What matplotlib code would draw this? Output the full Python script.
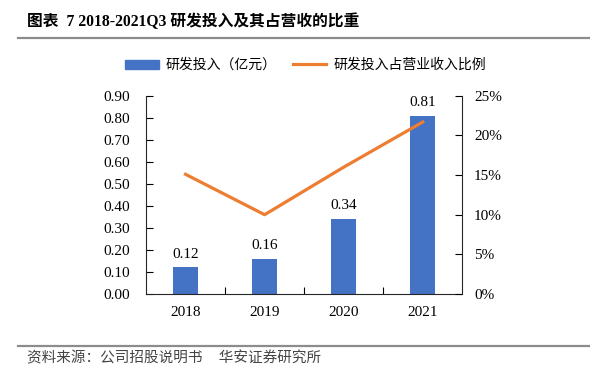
import matplotlib.pyplot as plt
from matplotlib.lines import Line2D
from matplotlib.patches import Patch
from matplotlib.ticker import FuncFormatter

# 数据
years = ['2018', '2019', '2020', '2021']
rd_spend = [0.12, 0.16, 0.34, 0.81]          # 研发投入（亿元）
rd_ratio = [15.1, 10.0, 16.0, 21.7]          # 占营业收入比例 (%)

num_font = ['Liberation Serif', 'Noto Sans CJK SC']
cjk_font = ['Noto Sans CJK SC', 'DejaVu Sans']

fig = plt.figure(figsize=(5.9, 3.66), dpi=100)
ax = fig.add_axes([0.2475, 0.197, 0.536, 0.541])
ax2 = ax.twinx()

x = range(len(years))
ax.bar(x, rd_spend, width=0.32, color='#4472C4', zorder=2)
ax2.plot(x, rd_ratio, color='#ED7D31', lw=2.3, zorder=3)

for xi, v in zip(x, rd_spend):
    ax.text(xi, v + 0.03, f'{v:.2f}', ha='center', va='bottom',
            fontsize=11, family=num_font)

ax.set_xlim(-0.5, 3.5)
ax.set_ylim(0, 0.9)
ax.set_yticks([i / 10 for i in range(10)])
ax.yaxis.set_major_formatter(FuncFormatter(lambda v, p: f'{v:.2f}'))
ax2.set_ylim(0, 25)
ax2.set_yticks(range(0, 30, 5))
ax2.yaxis.set_major_formatter(FuncFormatter(lambda v, p: f'{int(v)}%'))

ax.set_xticks(list(x))
ax.set_xticklabels(years)
ax.set_xticks([0.5, 1.5, 2.5], minor=True)
ax.tick_params(axis='x', which='major', length=0, pad=9)
ax.tick_params(axis='x', which='minor', direction='in', length=5, width=0.8)
ax.tick_params(axis='y', direction='in', length=5, width=0.8, pad=11.5)
ax2.tick_params(axis='y', direction='in', length=5, width=0.8, pad=8.5)

for a in (ax, ax2):
    a.spines['top'].set_visible(False)
    for lab in a.get_xticklabels() + a.get_yticklabels():
        lab.set_family(num_font)
        lab.set_fontsize(11)
ax.spines['right'].set_visible(False)
ax2.spines['left'].set_visible(False)
ax2.spines['bottom'].set_visible(False)
for s in ('left', 'bottom'):
    ax.spines[s].set_color('#262626')
ax2.spines['right'].set_color('#262626')

# 图例
handles = [Patch(color='#4472C4'), Line2D([], [], color='#ED7D31', lw=2.3)]
fig.legend(handles, ['研发投入（亿元）', '研发投入占营业收入比例'],
           loc='center', bbox_to_anchor=(0.518, 0.822), ncol=2, frameon=False,
           prop={'family': cjk_font, 'size': 10}, handlelength=2.4,
           handleheight=0.6, columnspacing=1.2, handletextpad=0.5)

# 标题与来源
fig.text(0.046, 0.94, '图表  7 2018-2021Q3 研发投入及其占营收的比重',
         fontsize=11.3, fontweight='bold', family=num_font, va='center')
fig.add_artist(Line2D([0.03, 1.0], [0.895, 0.895], color='#8c8c8c', lw=1.6))
fig.add_artist(Line2D([0.03, 1.0], [0.054, 0.054], color='#8c8c8c', lw=1.6))
fig.text(0.046, 0.021, '资料来源：公司招股说明书     华安证券研究所',
         fontsize=10.5, family=cjk_font, color='#444444', va='center')

fig.savefig('out.png', dpi=100)
